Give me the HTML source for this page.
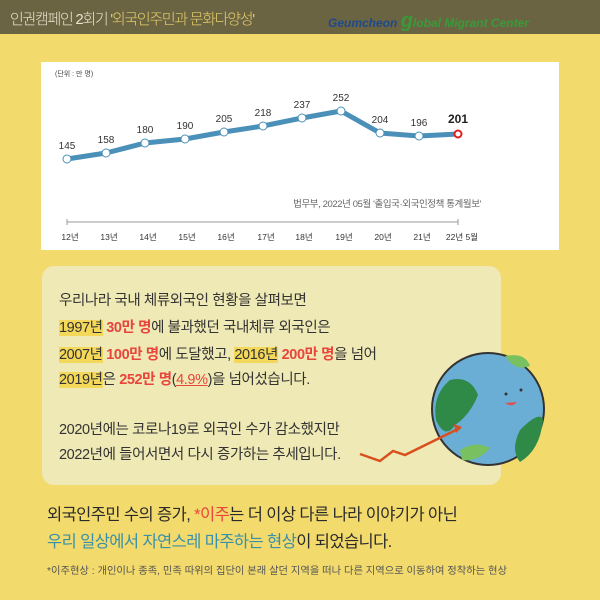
<!DOCTYPE html>
<html><head><meta charset="utf-8"><style>
body{margin:0;width:600px;height:600px;background:#f2da6c;position:relative;overflow:hidden;font-family:"Liberation Sans","Noto Sans CJK KR",sans-serif}
.hdr{position:absolute;left:0;top:0;width:600px;height:34px;background:#6b6443}
.t{position:absolute;white-space:nowrap}
.box{position:absolute;left:42px;top:266px;width:459px;height:219px;background:#efe9b5;border-radius:12px}
.hl{background:#f4d85a}
.r{color:#e8453c;font-weight:bold}
.l{font-size:14.5px;color:#333;left:59px;letter-spacing:-0.4px}
</style></head><body>
<div class="hdr"></div>
<div class="t" style="left:10px;top:8px;font-size:15px;letter-spacing:-1.3px;color:#e8e2cc;font-weight:300">인권캠페인 2회기 <span style="color:#e6cf6a">'외국인주민과 문화다양성'</span></div>
<div class="t" style="left:328px;top:10px;font-size:12px;font-style:italic;font-weight:bold;color:#1f4a8a">Geumcheon <span style="color:#3a9a3a;font-size:20px">g</span><span style="color:#3a9a3a">lobal Migrant Center</span></div>
<svg style="position:absolute;left:0;top:0" width="600" height="260">
<rect x="41" y="62" width="518" height="188" fill="#fff"/>
<text x="55" y="76" font-size="7" fill="#444">(단위 : 만 명)</text>
<polyline fill="none" stroke="#4a90b8" stroke-width="5" stroke-linejoin="round" points="67,159 106,153 145,143 185,139 224,132 263,126 302,118 341,111 380,133 419,136 458,134"/>
<g fill="#fff" stroke="#4a90b8" stroke-width="1">
<circle cx="67" cy="159" r="4"/><circle cx="106" cy="153" r="4"/><circle cx="145" cy="143" r="4"/><circle cx="185" cy="139" r="4"/><circle cx="224" cy="132" r="4"/><circle cx="263" cy="126" r="4"/><circle cx="302" cy="118" r="4"/><circle cx="341" cy="111" r="4"/><circle cx="380" cy="133" r="4"/><circle cx="419" cy="136" r="4"/></g>
<circle cx="458" cy="134" r="3.5" fill="#fff" stroke="#e02020" stroke-width="2"/>
<g font-size="10" fill="#333" text-anchor="middle">
<text x="67" y="149">145</text><text x="106" y="143">158</text><text x="145" y="133">180</text><text x="185" y="129">190</text><text x="224" y="122">205</text><text x="263" y="116">218</text><text x="302" y="108">237</text><text x="341" y="101">252</text><text x="380" y="123">204</text><text x="419" y="126">196</text></g>
<text x="458" y="123" font-size="12" font-weight="bold" fill="#222" text-anchor="middle">201</text>
<text x="481" y="207" font-size="9.5" fill="#666" text-anchor="end" letter-spacing="-0.4">법무부, 2022년 05월 '출입국·외국인정책 통계월보'</text>
<line x1="67" y1="222" x2="458" y2="222" stroke="#999" stroke-width="1"/>
<g stroke="#999"><line x1="67" y1="219" x2="67" y2="225"/><line x1="458" y1="219" x2="458" y2="225"/></g>
<g font-size="8.5" fill="#333" text-anchor="middle">
<text x="70" y="240">12년</text><text x="109" y="240">13년</text><text x="148" y="240">14년</text><text x="187" y="240">15년</text><text x="226" y="240">16년</text><text x="266" y="240">17년</text><text x="304" y="240">18년</text><text x="344" y="240">19년</text><text x="383" y="240">20년</text><text x="422" y="240">21년</text><text x="462" y="240">22년 5월</text></g>
</svg>
<div class="box"></div>
<div class="t l" style="top:289px">우리나라 국내 체류외국인 현황을 살펴보면</div>
<div class="t l" style="top:316px"><span class="hl">1997년</span> <span class="r">30만 명</span>에 불과했던 국내체류 외국인은</div>
<div class="t l" style="top:343px"><span class="hl">2007년</span> <span class="r">100만 명</span>에 도달했고, <span class="hl">2016년</span> <span class="r">200만 명</span>을 넘어</div>
<div class="t l" style="top:368px"><span class="hl">2019년</span>은 <span class="r">252만 명</span>(<span style="color:#e8453c;text-decoration:underline">4.9%</span>)을 넘어섰습니다.</div>
<div class="t l" style="top:418px">2020년에는 코로나19로 외국인 수가 감소했지만</div>
<div class="t l" style="top:443px">2022년에 들어서면서 다시 증가하는 추세입니다.</div>
<svg style="position:absolute;left:0;top:0" width="600" height="600">
<circle cx="488" cy="409" r="56" fill="#6aaed6" stroke="#333" stroke-width="2"/>
<path d="M450 380 Q470 375 478 395 Q470 415 455 425 Q445 440 436 420 Q432 395 450 380Z" fill="#2e8a46"/>
<path d="M505 356 Q525 352 530 366 Q515 372 505 356Z" fill="#78c060"/>
<path d="M520 430 Q540 410 543 420 Q540 450 520 462 Q510 450 520 430Z" fill="#2e8a46"/>
<path d="M460 450 Q475 440 490 448 Q478 462 462 460Z" fill="#78c060"/>
<path d="M360 454 L380 461 L393 451 L405 455 L460 428" fill="none" stroke="#d8501e" stroke-width="2.5"/>
<path d="M454 424 L462 427 L456 433Z" fill="#d8501e"/>
<circle cx="506" cy="394" r="1.5" fill="#333"/><circle cx="521" cy="390" r="1.5" fill="#333"/>
<path d="M505 403 Q512 408 517 402Z" fill="#e05050"/>
</svg>
<div class="t" style="left:47px;top:501px;font-size:16.5px;letter-spacing:-0.6px;color:#2a2a2a">외국인주민 수의 증가, <span style="color:#e8453c">*이주</span>는 더 이상 다른 나라 이야기가 아닌</div>
<div class="t" style="left:47px;top:528px;font-size:16.5px;letter-spacing:-0.6px;color:#2a2a2a"><span style="color:#3a90a8">우리 일상에서 자연스레 마주하는 현상</span>이 되었습니다.</div>
<div class="t" style="left:47px;top:562px;font-size:10.3px;color:#555">*이주현상 : 개인이나 종족, 민족 따위의 집단이 본래 살던 지역을 떠나 다른 지역으로 이동하여 정착하는 현상</div>
</body></html>
